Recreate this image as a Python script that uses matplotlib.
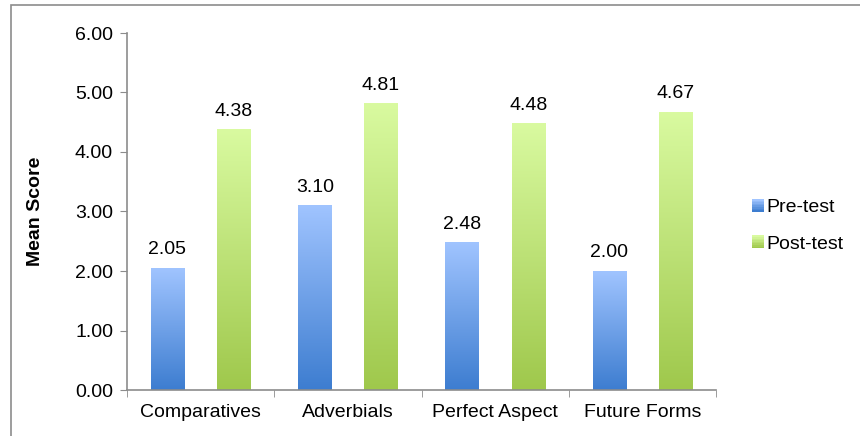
import matplotlib.pyplot as plt
import numpy as np
from matplotlib.colors import LinearSegmentedColormap
from matplotlib.patches import Rectangle
from matplotlib.legend_handler import HandlerBase

plt.rcParams['font.family'] = ['Liberation Sans', 'DejaVu Sans']

categories = ['Comparatives', 'Adverbials', 'Perfect Aspect', 'Future Forms']
pre_test = [2.05, 3.10, 2.48, 2.00]
post_test = [4.38, 4.81, 4.48, 4.67]
series_names = ['Pre-test', 'Post-test']

blue_cmap = LinearSegmentedColormap.from_list('blue', ['#3d7dd0', '#a0c4ff'])
green_cmap = LinearSegmentedColormap.from_list('green', ['#9fc84c', '#d9faa0'])

fs = 14

fig = plt.figure(figsize=(8.6, 4.36), dpi=100)
ax = fig.add_axes([127 / 860, 1 - 390 / 436, (716 - 127) / 860, (390 - 33) / 436])

# outer chart frame (right and bottom edges run off the canvas)
fig.add_artist(Rectangle((10.5 / 860, -0.1), 1.0, 431 / 436 + 0.1,
                         transform=fig.transFigure, fill=False,
                         edgecolor='#8c8c8c', linewidth=1.2))

x = np.arange(len(categories))
width = 0.225
offset = 0.225


def gradient_bars(xs, vals, cmap):
    bars = ax.bar(xs, vals, width, facecolor='none', edgecolor='none')
    grad = np.linspace(0, 1, 256).reshape(-1, 1)
    for b in bars:
        x0, y0 = b.get_x(), b.get_y()
        w, h = b.get_width(), b.get_height()
        # soft shadow
        ax.add_patch(Rectangle((x0 + 0.006, y0), w, h - 0.02, facecolor='#000000',
                               alpha=0.08, edgecolor='none', zorder=1))
        ax.imshow(grad, extent=[x0, x0 + w, y0, y0 + h], origin='lower',
                  cmap=cmap, aspect='auto', zorder=2)
    for b, v in zip(bars, vals):
        ax.annotate(f'{v:.2f}', (b.get_x() + b.get_width() / 2, v),
                    xytext=(0, 7), textcoords='offset points',
                    ha='center', va='bottom', fontsize=fs)
    return bars


gradient_bars(x - offset, pre_test, blue_cmap)
gradient_bars(x + offset, post_test, green_cmap)

ax.set_xlim(-0.5, len(categories) - 0.5)
ax.set_ylim(0, 6)
ax.set_yticks(np.arange(0, 7, 1))
ax.set_yticklabels([f'{v:.2f}' for v in np.arange(0, 7, 1)], fontsize=fs)
ax.set_xticks(x)
ax.set_xticklabels(categories, fontsize=fs)
ax.set_xticks(np.arange(-0.5, len(categories), 1), minor=True)
ax.tick_params(axis='x', which='major', length=0, pad=10)
ax.tick_params(axis='x', which='minor', length=5, color='#8c8c8c', direction='out')
ax.tick_params(axis='y', length=5, color='#8c8c8c', pad=5)
for s in ['top', 'right']:
    ax.spines[s].set_visible(False)
for s in ['left', 'bottom']:
    ax.spines[s].set_color('#8c8c8c')
    ax.spines[s].set_linewidth(1.2)
ax.set_ylabel('Mean Score', fontsize=fs, fontweight='bold')
ax.yaxis.set_label_coords((44 - 127) / 589, 0.5)


class GradientHandler(HandlerBase):
    def __init__(self, cmap):
        super().__init__()
        self.cmap = cmap

    def create_artists(self, legend, orig_handle, xdescent, ydescent, width, height,
                       fontsize, trans):
        arts = []
        n = 8
        for i in range(n):
            arts.append(Rectangle((-xdescent + (width - height), -ydescent + i * height / n),
                                  height, height / n + 0.2,
                                  facecolor=self.cmap(i / (n - 1)), edgecolor='none',
                                  transform=trans))
        return arts


h1 = Rectangle((0, 0), 1, 1)
h2 = Rectangle((0, 1), 1, 1)
fig.legend([h1, h2], series_names, loc='center left', bbox_to_anchor=(745 / 860, 1 - 226 / 436),
           frameon=False, fontsize=fs, handlelength=0.6, handleheight=0.6,
           handletextpad=0.1, labelspacing=1.0, borderaxespad=0,
           handler_map={h1: GradientHandler(blue_cmap), h2: GradientHandler(green_cmap)})

fig.savefig('out.png', dpi=100)
